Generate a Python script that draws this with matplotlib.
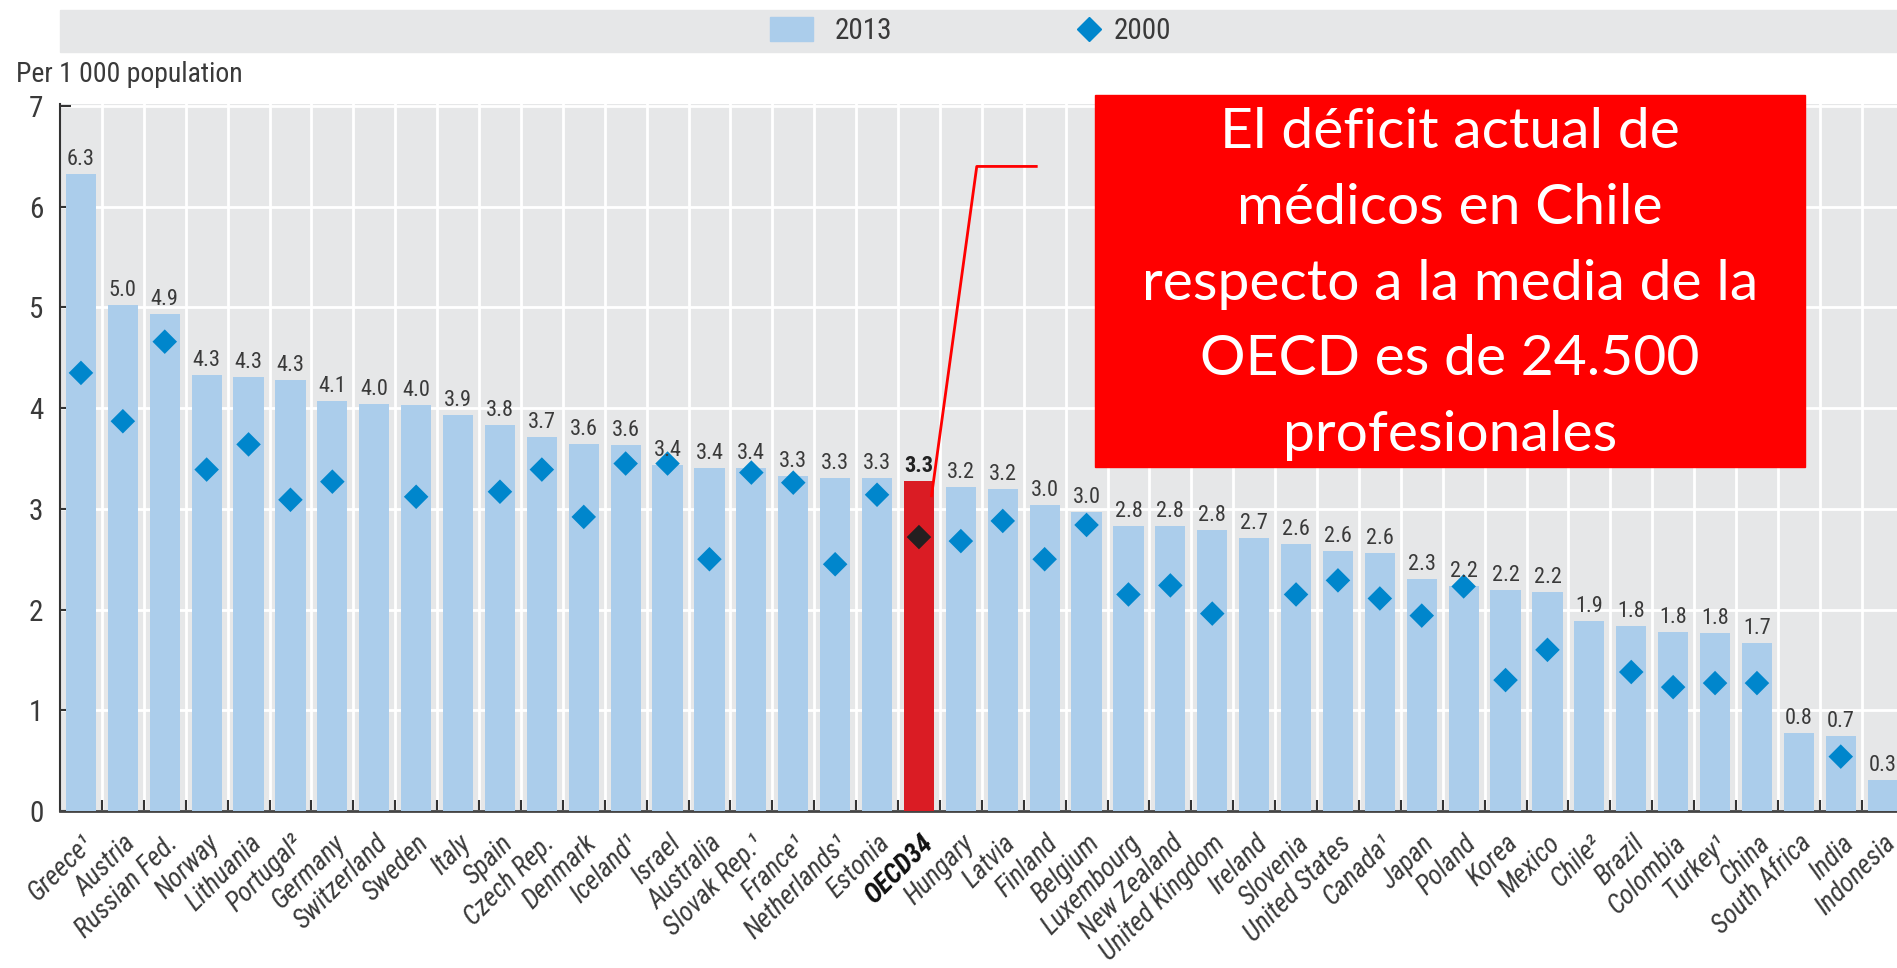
import matplotlib
matplotlib.use("Agg")
import matplotlib.pyplot as plt
from matplotlib import font_manager
from matplotlib.patches import Rectangle
from matplotlib.lines import Line2D
import numpy as np

# ---------------- data ----------------
countries = ["Greece¹", "Austria", "Russian Fed.", "Norway", "Lithuania", "Portugal²",
             "Germany", "Switzerland", "Sweden", "Italy", "Spain", "Czech Rep.",
             "Denmark", "Iceland¹", "Israel", "Australia", "Slovak Rep.¹", "France¹",
             "Netherlands¹", "Estonia", "OECD34", "Hungary", "Latvia", "Finland",
             "Belgium", "Luxembourg", "New Zealand", "United Kingdom", "Ireland",
             "Slovenia", "United States", "Canada¹", "Japan", "Poland", "Korea",
             "Mexico", "Chile²", "Brazil", "Colombia", "Turkey¹", "China",
             "South Africa", "India", "Indonesia"]

values_2013 = [6.32, 5.02, 4.93, 4.33, 4.31, 4.28, 4.07, 4.04, 4.03, 3.93, 3.83, 3.71,
               3.64, 3.63, 3.44, 3.41, 3.41, 3.33, 3.31, 3.31, 3.28, 3.22, 3.20, 3.04,
               2.97, 2.83, 2.83, 2.79, 2.71, 2.65, 2.58, 2.56, 2.30, 2.23, 2.19, 2.17,
               1.89, 1.84, 1.78, 1.77, 1.67, 0.77, 0.74, 0.31]

values_2000 = [4.35, 3.87, 4.66, 3.39, 3.64, 3.09, 3.27, None, 3.12, None, 3.17, 3.39,
               2.92, 3.45, 3.45, 2.50, 3.36, 3.26, 2.45, 3.14, 2.72, 2.68, 2.88, 2.50,
               2.84, 2.15, 2.24, 1.96, None, 2.15, 2.29, 2.11, 1.94, 2.23, 1.30, 1.60,
               None, 1.38, 1.23, 1.27, 1.27, None, 0.54, None]

highlight = "OECD34"
legend_labels = ["2013", "2000"]
y_label = "Per 1 000 population"
note_text = ("El déficit actual de\nmédicos en Chile\nrespecto a la media de la\n"
             "OECD es de 24.500\nprofesionales")

# ---------------- style ----------------
names = {f.name for f in font_manager.fontManager.ttflist}
narrow = "DejaVu Sans"
for cand in ["Roboto Condensed", "Liberation Sans Narrow", "DejaVu Sans Condensed", "Liberation Sans"]:
    if cand in names:
        narrow = cand
        break
plt.rcParams["font.family"] = [narrow, "DejaVu Sans"]
note_font = "Lato" if "Lato" in names else "DejaVu Sans"

BG = "#e6e7e8"
BAR = "#abcdeb"
RED_BAR = "#da1c24"
DIA = "#0086cc"
TXT = "#3a3a3a"

W, H = 1897, 968
fig = plt.figure(figsize=(W / 100, H / 100), dpi=100)

def fx(px):
    return px / W

def fy(py):
    return 1 - py / H

x0, x1 = 60, 1897
ytop, ybot = 106, 811
ymax = 7.02
ax = fig.add_axes([fx(x0), fy(ybot), fx(x1 - x0), (ybot - ytop) / H * ymax / 7.0])
ax.set_facecolor(BG)

n = len(countries)
x = np.arange(n)
span = (x1 - x0) / 41.9
ax.set_xlim(-0.5, -0.5 + span)
ax.set_ylim(0, ymax)

colors = [RED_BAR if c == highlight else BAR for c in countries]
ax.bar(x, values_2013, width=0.72, color=colors, zorder=3)

xd = [i for i, v in enumerate(values_2000) if v is not None]
yd = [values_2000[i] for i in xd]
dcol = ["#231f20" if countries[i] == highlight else DIA for i in xd]
ax.scatter(xd, yd, marker="D", s=12.5 ** 2, c=dcol, zorder=4, linewidths=0)

for i, v in enumerate(values_2013):
    bold = countries[i] == highlight
    ax.text(i, v + 0.04, f"{v:.1f}", ha="center", va="bottom", fontsize=16,
            color="#222222" if bold else TXT, fontweight="bold" if bold else "normal",
            zorder=5)

# grid
ax.set_xticks(x)
ax.set_xticks(x[:-1] + 0.5, minor=True)
ax.set_yticks(range(0, 8))
ax.grid(True, which="major", axis="y", color="white", lw=2, zorder=1)
ax.grid(True, which="minor", axis="x", color="white", lw=2, zorder=1)
ax.grid(False, which="major", axis="x")
ax.set_axisbelow(True)

for s in ["top", "right"]:
    ax.spines[s].set_visible(False)
ax.spines["left"].set_color("#333333")
ax.spines["left"].set_linewidth(1.5)
ax.spines["bottom"].set_color("#444444")
ax.spines["bottom"].set_linewidth(2.0)

ax.tick_params(axis="x", which="major", length=0, pad=14)
ax.tick_params(axis="x", which="minor", direction="in", length=8, width=1.5, color="#333333")
ax.tick_params(axis="y", direction="in", length=8, width=1.5, color="#333333",
               labelsize=21, labelcolor=TXT, pad=12)
ax.set_xticklabels(countries, rotation=45, ha="right", rotation_mode="anchor",
                   fontsize=19.5, color=TXT, style="italic")
for lbl in ax.get_xticklabels():
    if lbl.get_text() == highlight:
        lbl.set_fontweight("bold")
        lbl.set_color("#111111")

# legend band
fig.patches.append(Rectangle((fx(60), fy(52)), fx(W - 60), (52 - 10) / H,
                             transform=fig.transFigure, color=BG, zorder=0))
lfs = 21
fpx = lfs * 100 / 72
fig.legend([Rectangle((0, 0), 1, 1, color=BAR)], legend_labels[:1],
           loc="center left", bbox_to_anchor=(fx(770), fy(31)), frameon=False,
           fontsize=lfs, labelcolor=TXT, borderpad=0, borderaxespad=0,
           handlelength=43 / fpx, handleheight=26 / fpx, handletextpad=22 / fpx)
fig.legend([Line2D([], [], marker="D", color=DIA, ls="none", markersize=12.5)],
           legend_labels[1:], loc="center left", bbox_to_anchor=(fx(1074), fy(31)),
           frameon=False, fontsize=lfs, labelcolor=TXT, borderpad=0,
           borderaxespad=0, handlelength=30 / fpx, handletextpad=10 / fpx)

fig.text(fx(16), fy(75), y_label, fontsize=20, color=TXT, ha="left", va="center")

# annotation box
fig.patches.append(Rectangle((fx(1095), fy(467)), fx(1805 - 1095), (467 - 95) / H,
                             transform=fig.transFigure, color="#ff0000", zorder=10))
fig.text(fx(1450), fy(284), note_text, fontsize=41, color="white", ha="center",
         va="center", family=note_font, linespacing=1.6, zorder=11)

# leader line from OECD bar
oi = countries.index(highlight)
ax.plot([oi + 0.3, oi + 1.38, oi + 2.8], [3.13, 6.4, 6.4], color="#ff0000", lw=2,
        zorder=6, clip_on=False)

fig.savefig("out.png", dpi=100)
